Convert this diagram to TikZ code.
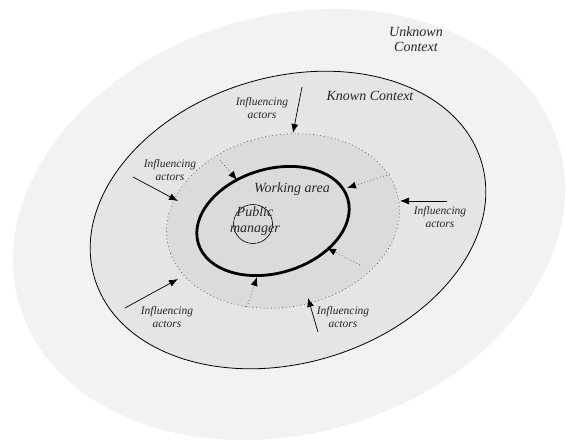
\documentclass[tikz,border=0pt]{standalone}
\usepackage{fontspec}
\setmainfont{Liberation Serif}
\usetikzlibrary{arrows.meta}
\begin{document}
\begin{tikzpicture}[x=1pt,y=-1pt,
  lbl/.style={font=\fontsize{11.5}{13}\selectfont\itshape, align=center, text=black!85, inner sep=0pt},
  big/.style={font=\fontsize{14}{15.5}\selectfont\itshape, align=center, text=black!85, inner sep=0pt},
  infl/.style={-{Latex[length=9pt,width=7pt]}, line width=0.7pt},
  dinfl/.style={-{Latex[length=9pt,width=7pt,color=black]}, line width=0.7pt, dash pattern=on 0.7pt off 2.6pt, draw=black!70}]
\useasboundingbox (0,0) rectangle (566,441);
% unknown context
\fill[black!5, rotate around={16.7:(289,224.5)}] (289,224.5) ellipse [x radius=281.3, y radius=208.6];
% known context
\filldraw[fill=black!10, draw=black, line width=0.8pt, rotate around={16.7:(288,220)}] (288,220) ellipse [x radius=202, y radius=143];
% influence zone
\fill[black!14, rotate around={11:(283,221)}] (283,221) ellipse [x radius=117.5, y radius=86];
\draw[black!70, line width=0.7pt, dash pattern=on 0.7pt off 3pt, rotate around={11:(283,221)}] (283,221) ellipse [x radius=117.5, y radius=86];
% working area
\draw[line width=2.8pt, rotate around={16.6:(273,221)}] (273,221) ellipse [x radius=78, y radius=52];
% public manager
\node[circle, draw, line width=0.6pt, minimum size=39pt, inner sep=0pt] (pmc) at (253,224) {};
\node[big] (pm) at (255,221) {Public\\manager};
% labels
\node[big] (unk) at (416,39) {Unknown\\Context};
\node[big] (known) at (370,96) {Known Context};
\node[big] (work) at (292,189) {Working area};
\node[lbl] (it) at (262,108) {Influencing\\actors};
\node[lbl] (il) at (170,170) {Influencing\\actors};
\node[lbl] (ir) at (440,217) {Influencing\\actors};
\node[lbl] (ibl) at (167,317) {Influencing\\actors};
\node[lbl] (ibr) at (343,317) {Influencing\\actors};
% solid arrow endpoints
\coordinate (ts) at (302,87);   \coordinate (te) at (293,133);
\coordinate (ls) at (133,177);  \coordinate (le) at (178,201);
\coordinate (rs) at (447,201);  \coordinate (re) at (400,201);
\coordinate (bls) at (125,308); \coordinate (ble) at (178,279);
\coordinate (brs) at (318,332); \coordinate (bre) at (308,298);
\draw[infl] (ts) -- (te);
\draw[infl] (ls) -- (le);
\draw[infl] (rs) -- (re);
\draw[infl] (bls) -- (ble);
\draw[infl] (brs) -- (bre);
% dotted arrow endpoints
\coordinate (a1) at (220,160); \coordinate (b1) at (237,180);
\coordinate (a2) at (390,174); \coordinate (b2) at (347,188);
\coordinate (a3) at (360,265); \coordinate (b3) at (327,248);
\coordinate (a4) at (247,307); \coordinate (b4) at (257,277);
\draw[dinfl] (a1) -- (b1);
\draw[dinfl] (a2) -- (b2);
\draw[dinfl] (a3) -- (b3);
\draw[dinfl] (a4) -- (b4);
\end{tikzpicture}
\end{document}
